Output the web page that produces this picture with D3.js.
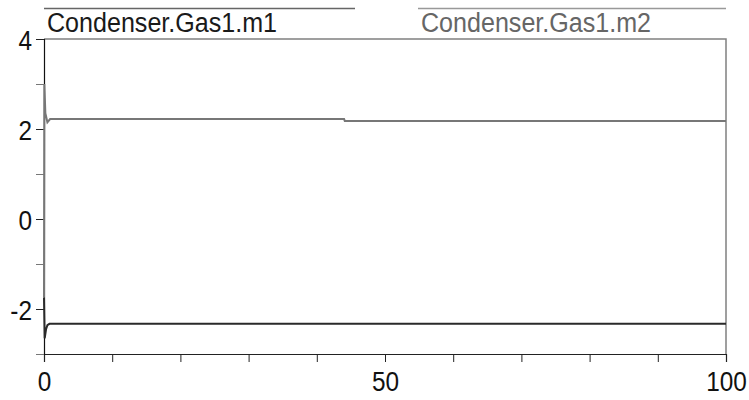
<!DOCTYPE html>
<html><head><meta charset="utf-8">
<script src="https://cdn.jsdelivr.net/npm/d3@7"></script>
<style>body{margin:0;background:#fff}svg{display:block}</style>
</head><body>
<script>
const seriesNames = ["Condenser.Gas1.m1", "Condenser.Gas1.m2"];
const m1Time = [0, 0.1, 0.3, 0.5, 0.8, 44, 100];
const m1Vals = [-1.75, -2.65, -2.45, -2.36, -2.33, -2.33, -2.33];
const m2Time = [0, 0.05, 0.2, 0.5, 0.9, 44, 44.1, 100];
const m2Vals = [-1.75, 3.0, 2.35, 2.15, 2.22, 2.22, 2.18, 2.18];
const xTicks = [0, 10, 20, 30, 40, 50, 60, 70, 80, 90, 100];
const xLabels = [0, 50, 100];
const yTicks = [-3, -2, -1, 0, 1, 2, 3, 4];
const yLabels = [-2, 0, 2, 4];

const W = 749, H = 400;
const svg = d3.select("body").append("svg").attr("width", W).attr("height", H);
const x = d3.scaleLinear().domain([0, 100]).range([44, 726]);
const y = d3.scaleLinear().domain([-3, 4]).range([354, 39]);
const font = "'Liberation Sans', Arial, sans-serif";
const sx = 0.87;

// frame top/right
svg.append("path").attr("d", `M${x(0)},${y(4)}H${x(100)}V${y(-3)}`)
  .attr("fill", "none").attr("stroke", "#808080").attr("stroke-width", 1.5);

// x axis
const xa = svg.append("g").attr("transform", `translate(0,${y(-3)})`)
  .call(d3.axisBottom(x).tickValues(xTicks).tickSize(8).tickFormat(d => xLabels.includes(d) ? String(d) : ""));
xa.select(".domain").attr("stroke", "#222").attr("stroke-width", 1.2);
xa.selectAll(".tick line").attr("stroke", "#222");
xa.selectAll("text").attr("font-family", font).attr("font-size", 28).attr("fill", "#111")
  .attr("y", 15).attr("dy", "0.8em").attr("transform", `scale(${sx},1)`);

// y axis
const ya = svg.append("g").attr("transform", `translate(${x(0)},0)`)
  .call(d3.axisLeft(y).tickValues(yTicks).tickSize(8).tickFormat(d => yLabels.includes(d) ? String(d) : ""));
ya.select(".domain").attr("stroke", "#111").attr("stroke-width", 1.2);
ya.selectAll(".tick line").attr("stroke", d => yLabels.includes(d) ? "#222" : "#777");
ya.selectAll("text").attr("font-family", font).attr("font-size", 28).attr("fill", "#111")
  .attr("x", -12 / sx).attr("dy", "0.36em").attr("transform", `scale(${sx},1)`);

const line = d3.line().x(d => x(d[0])).y(d => y(d[1]));
svg.append("path").datum(m2Time.map((t, i) => [t, m2Vals[i]]))
  .attr("d", line).attr("fill", "none").attr("stroke", "#777").attr("stroke-width", 2);
svg.append("path").datum(m1Time.map((t, i) => [t, m1Vals[i]]))
  .attr("d", line).attr("fill", "none").attr("stroke", "#2a2a2a").attr("stroke-width", 2);

// legend
const leg = [
  {name: seriesNames[0], x0: 44, x1: 355, lc: "#666", tc: "#1a1a1a"},
  {name: seriesNames[1], x0: 418, x1: 726, lc: "#999", tc: "#666"}
];
leg.forEach(l => {
  svg.append("line").attr("x1", l.x0).attr("x2", l.x1).attr("y1", 8.5).attr("y2", 8.5)
    .attr("stroke", l.lc).attr("stroke-width", 1.5);
  svg.append("text").attr("x", l.x0 + 3).attr("y", 32).text(l.name)
    .attr("font-family", font).attr("font-size", 27).attr("fill", l.tc)
    .attr("textLength", 230).attr("lengthAdjust", "spacingAndGlyphs");
});
</script>
</body></html>
